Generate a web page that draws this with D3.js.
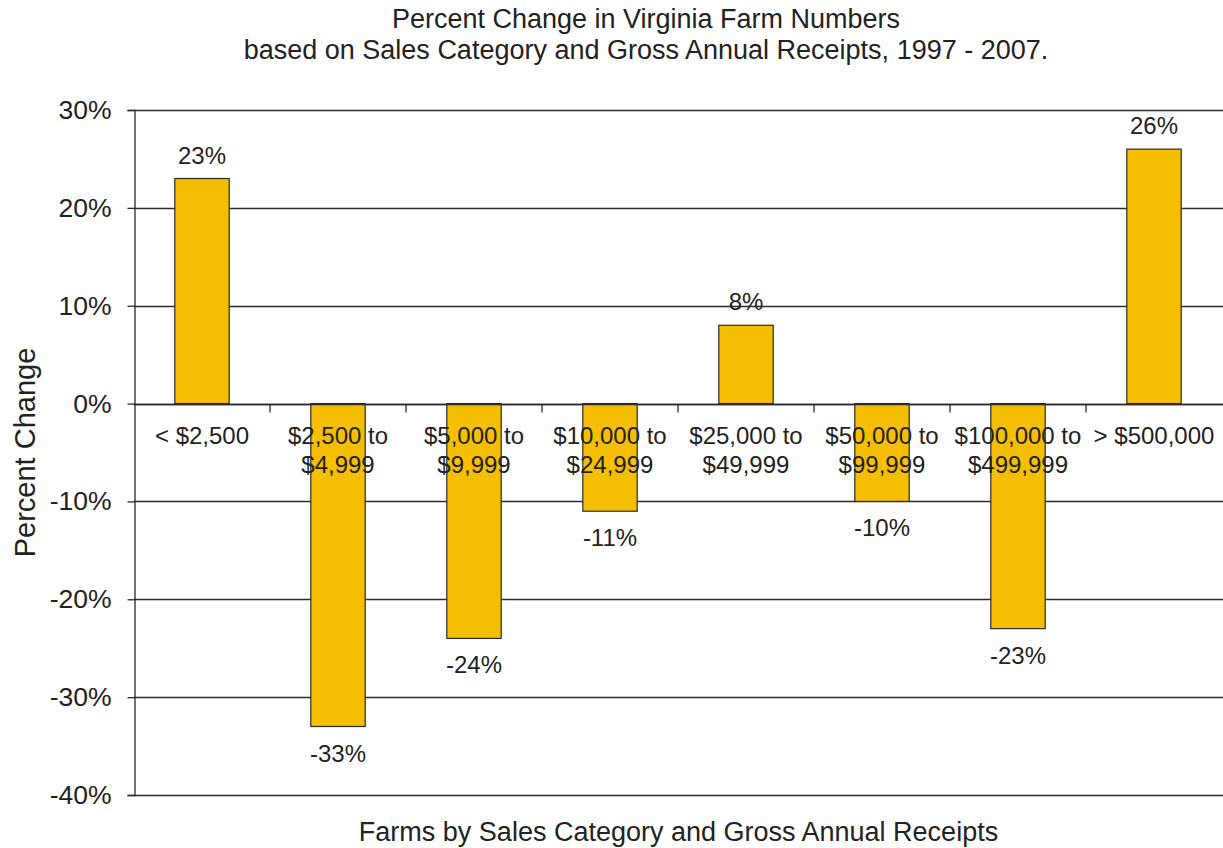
<!DOCTYPE html>
<html>
<head>
<meta charset="utf-8">
<script src="https://cdn.jsdelivr.net/npm/d3@7"></script>
<style>
  html, body { margin: 0; padding: 0; background: #fff; }
  svg { display: block; font-family: "Liberation Sans", Arial, sans-serif; }
</style>
</head>
<body>
<svg id="chart" width="1223" height="848"></svg>
<script>
// Sales categories (two-line labels) and percent change 1997 - 2007
const categories = [
  ["< $2,500"],
  ["$2,500 to", "$4,999"],
  ["$5,000 to", "$9,999"],
  ["$10,000 to", "$24,999"],
  ["$25,000 to", "$49,999"],
  ["$50,000 to", "$99,999"],
  ["$100,000 to", "$499,999"],
  ["> $500,000"]
];
const percentChange = [23, -33, -24, -11, 8, -10, -23, 26];
const yTicks = [30, 20, 10, 0, -10, -20, -30, -40];
const titleLines = [
  "Percent Change in Virginia Farm Numbers",
  "based on Sales Category and Gross Annual Receipts, 1997 - 2007."
];
const xTitle = "Farms by Sales Category and Gross Annual Receipts";
const yTitle = "Percent Change";

const svg = d3.select("#chart");
const margin = { left: 134, right: 1, top: 110, bottom: 53 };
const W = 1223, H = 848;
const ink = "#222";
const lineColor = "#2a2a2a";

const keys = categories.map((c, i) => i);
const x = d3.scaleBand().domain(keys)
  .range([margin.left, W - margin.right])
  .paddingInner(0.6).paddingOuter(0.3);
const y = d3.scaleLinear().domain([-40, 30]).range([H - margin.bottom, margin.top]);

// title
svg.append("g").selectAll("text").data(titleLines).join("text")
  .attr("x", 646).attr("y", (d, i) => 28 + i * 31)
  .attr("text-anchor", "middle").attr("font-size", 27).attr("fill", ink)
  .text(d => d);

// horizontal gridlines
svg.append("g").selectAll("line").data(yTicks).join("line")
  .attr("x1", margin.left).attr("x2", W)
  .attr("y1", d => Math.round(y(d)) + 0.5).attr("y2", d => Math.round(y(d)) + 0.5)
  .attr("stroke", lineColor).attr("stroke-width", 1.3);

// y axis
const yAxis = d3.axisLeft(y).tickValues(yTicks).tickSize(7).tickPadding(16)
  .tickFormat(d => d + "%");
const gy = svg.append("g").attr("transform", `translate(${margin.left + 0.5},0)`).call(yAxis);
gy.select(".domain").attr("stroke", lineColor).attr("stroke-width", 1.3);
gy.selectAll(".tick line").attr("stroke", lineColor).attr("stroke-width", 1.3);
gy.selectAll(".tick text").attr("font-size", 26.5).attr("fill", ink)
  .attr("font-family", "Liberation Sans, Arial, sans-serif");

// bars
svg.append("g").selectAll("rect").data(percentChange).join("rect")
  .attr("x", (d, i) => x(i))
  .attr("width", x.bandwidth())
  .attr("y", d => y(Math.max(0, d)))
  .attr("height", d => Math.abs(y(d) - y(0)))
  .attr("fill", "#F5BE00")
  .attr("stroke", lineColor).attr("stroke-width", 1.2);

// x axis line at 0 with category boundary ticks
const y0 = Math.round(y(0)) + 0.5;
svg.append("line").attr("x1", margin.left).attr("x2", W)
  .attr("y1", y0).attr("y2", y0).attr("stroke", lineColor).attr("stroke-width", 1.3);
const step = x.step();
const bandStart = x(0) - step * x.paddingOuter();
svg.append("g").selectAll("line").data(d3.range(1, categories.length)).join("line")
  .attr("x1", d => bandStart + d * step)
  .attr("x2", d => bandStart + d * step)
  .attr("y1", y0).attr("y2", y0 + 8)
  .attr("stroke", lineColor).attr("stroke-width", 1.3);

// category labels (drawn over bars)
const lab = svg.append("g").selectAll("text").data(categories).join("text")
  .attr("text-anchor", "middle").attr("font-size", 24).attr("fill", ink)
  .attr("x", (d, i) => x(i) + x.bandwidth() / 2)
  .attr("y", y0 + 39);
lab.selectAll("tspan").data(d => d).join("tspan")
  .attr("x", function () { return d3.select(this.parentNode).attr("x"); })
  .attr("dy", (d, i) => i === 0 ? 0 : 29)
  .text(d => d);

// value labels
svg.append("g").selectAll("text").data(percentChange).join("text")
  .attr("text-anchor", "middle").attr("font-size", 24).attr("fill", ink)
  .attr("x", (d, i) => x(i) + x.bandwidth() / 2)
  .attr("y", d => d >= 0 ? y(d) - 15 : y(d) + 35)
  .text(d => d + "%");

// axis titles
svg.append("text").attr("x", (margin.left + W) / 2).attr("y", 841)
  .attr("text-anchor", "middle").attr("font-size", 27).attr("fill", ink).text(xTitle);
svg.append("text")
  .attr("transform", `translate(35,${(y(30) + y(-40)) / 2}) rotate(-90)`)
  .attr("text-anchor", "middle").attr("font-size", 29).attr("fill", ink).text(yTitle);
</script>
</body>
</html>
